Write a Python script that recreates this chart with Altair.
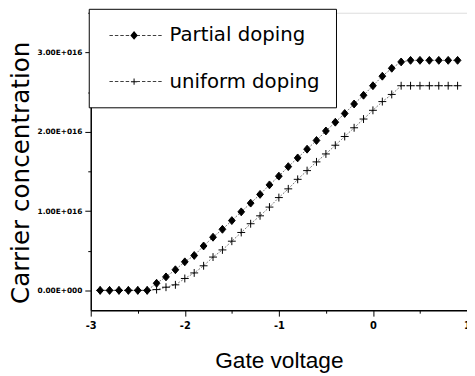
import altair as alt
import pandas as pd

# ---- data (values in units of 1e16) ----
gate_voltage = [-2.9, -2.8, -2.7, -2.6, -2.5, -2.4, -2.3, -2.2, -2.1, -2.0,
                -1.9, -1.8, -1.7, -1.6, -1.5, -1.4, -1.3, -1.2, -1.1, -1.0,
                -0.9, -0.8, -0.7, -0.6, -0.5, -0.4, -0.3, -0.2, -0.1, 0.0,
                0.1, 0.2, 0.3, 0.4, 0.5, 0.6, 0.7, 0.8, 0.9]
partial_doping = [0, 0, 0, 0, 0, 0, 0.09, 0.17, 0.26, 0.36,
                  0.44, 0.56, 0.67, 0.77, 0.88, 0.99, 1.10, 1.21, 1.33, 1.44,
                  1.56, 1.67, 1.78, 1.89, 2.01, 2.12, 2.23, 2.35, 2.46, 2.58,
                  2.70, 2.80, 2.88, 2.90, 2.90, 2.90, 2.90, 2.90, 2.90]
uniform_doping = [0, 0, 0, 0, 0, 0, 0.01, 0.04, 0.07, 0.15,
                  0.22, 0.31, 0.42, 0.51, 0.62, 0.73, 0.84, 0.94, 1.05, 1.17,
                  1.28, 1.40, 1.51, 1.62, 1.72, 1.83, 1.94, 2.05, 2.16, 2.27,
                  2.38, 2.47, 2.58, 2.58, 2.58, 2.58, 2.58, 2.58, 2.58]
series_names = ["Partial doping", "uniform doping"]
x_ticks = [-3, -2, -1, 0, 1]
x_minor = [-2.5, -1.5, -0.5, 0.5]
y_ticks = [0, 1e16, 2e16, 3e16]
y_minor = [0.5e16, 1.5e16, 2.5e16, 3.5e16]

rows = []
for xv, pv, uv in zip(gate_voltage, partial_doping, uniform_doping):
    rows.append({"x": xv, "y": pv * 1e16, "series": series_names[0]})
    rows.append({"x": xv, "y": uv * 1e16, "series": series_names[1]})
df = pd.DataFrame(rows)

# ---- marker shapes ----
DIAMOND = "M0,-1L0.85,0L0,1L-0.85,0Z"
PLUS = "M-1,0H1M0,-1V1"


def rect(x0, x1, y0, y1):
    return f"M{x0:.2f},{y0:.2f}H{x1:.2f}V{y1:.2f}H{x0:.2f}Z"


def legend_path(marker):
    segs = []
    a = -2.5
    while a < 2.8:
        b = min(a + 0.35, 2.8)
        segs.append(rect(a + 1.9, b + 1.9, -0.04, 0.04))
        a += 0.55
    return "".join(segs) + marker


LEG_DIAMOND = legend_path("M1.9,-0.45L2.28,0L1.9,0.45L1.52,0Z")
LEG_PLUS = legend_path(rect(1.58, 2.22, -0.05, 0.05) + rect(1.85, 1.95, -0.32, 0.32))

x_dom = [-3, 1]
y_dom = [-0.25e16, 3.5e16]

label_expr = ("datum.value == 0 ? '0.00E+000' : "
              "format(datum.value / 1e16, '.2f') + 'E+016'")
x_label_expr = "datum.value < 0 ? '-' + format(-datum.value, 'd') : format(datum.value, 'd')"

x_main = alt.X("x:Q", scale=alt.Scale(domain=x_dom, nice=False, zero=False),
               axis=alt.Axis(values=x_ticks, title="Gate voltage", orient="bottom",
                             grid=False, tickSize=6, tickWidth=1, domainWidth=1.5,
                             domainColor="black", tickColor="black",
                             labelExpr=x_label_expr,
                             labelFont="DejaVu Sans", labelFontWeight="bold",
                             labelFontSize=10, labelColor="black", labelPadding=5,
                             labelFlush=False, labelOverlap=False,
                             titleFont="Liberation Sans", titleFontSize=23,
                             titleFontWeight="normal", titleColor="black",
                             titleX=191, titleY=58, titleBaseline="alphabetic",
                             titleAlign="center"))
y_main = alt.Y("y:Q", scale=alt.Scale(domain=y_dom, nice=False, zero=False),
               axis=alt.Axis(values=y_ticks, title="Carrier concentration", orient="left",
                             grid=False, tickSize=6, tickWidth=1, domainWidth=1.5,
                             domainColor="black", tickColor="black",
                             labelExpr=label_expr, labelFont="DejaVu Sans",
                             labelFontWeight="bold", labelFontSize=7.5,
                             labelColor="black", labelPadding=3, labelFlush=False,
                             labelOverlap=False,
                             titleFont="DejaVu Sans", titleFontSize=25,
                             titleFontWeight="normal", titleColor="black",
                             titleAngle=270, titleX=-63, titleY=162,
                             titleBaseline="alphabetic", titleAlign="center"))

lines = alt.Chart(df).mark_line(
    color="#555555", strokeWidth=0.8, strokeDash=[2, 1.5]
).encode(x=x_main, y=y_main, detail="series:N")

x_plain = alt.X("x:Q", scale=alt.Scale(domain=x_dom, nice=False, zero=False), axis=None)
y_plain = alt.Y("y:Q", scale=alt.Scale(domain=y_dom, nice=False, zero=False), axis=None)

points = alt.Chart(df).mark_point(
    filled=True, color="black", stroke="black", strokeWidth=1, opacity=1, size=64
).encode(
    x=x_plain, y=y_plain,
    shape=alt.Shape("series:N", scale=alt.Scale(domain=series_names, range=[DIAMOND, PLUS]),
                    legend=None),
)

minor = alt.Chart(df).mark_point(opacity=0, size=1).encode(
    x=alt.X("x:Q", scale=alt.Scale(domain=x_dom, nice=False, zero=False),
            axis=alt.Axis(values=x_minor, orient="bottom", labels=False, domain=False,
                          title=None, tickSize=3, tickWidth=1, tickColor="black", grid=False)),
    y=alt.Y("y:Q", scale=alt.Scale(domain=y_dom, nice=False, zero=False),
            axis=alt.Axis(values=y_minor, orient="left", labels=False, domain=False,
                          title=None, tickSize=3, tickWidth=1, tickColor="black", grid=False)),
)

legend_layer = alt.Chart(df).transform_filter("false").mark_point(
    filled=True, color="black", opacity=1
).encode(
    x=x_plain, y=y_plain,
    shape=alt.Shape("series:N",
                    scale=alt.Scale(domain=series_names, range=[LEG_DIAMOND, LEG_PLUS]),
                    legend=alt.Legend(orient="none", legendX=-2, legendY=-4, title=None,
                                      padding=16, rowPadding=26, labelOffset=44,
                                      symbolSize=400, symbolFillColor="black",
                                      symbolOpacity=1,
                                      labelFont="DejaVu Sans", labelFontSize=20,
                                      labelColor="black", labelLimit=400,
                                      strokeColor="black", fillColor="white",
                                      cornerRadius=0)),
)

chart = alt.layer(lines, points, minor, legend_layer).resolve_scale(
    shape="independent"
).resolve_legend(shape="independent").resolve_axis(
    x="independent", y="independent"
).properties(
    width=382, height=302,
    autosize=alt.AutoSizeParams(type="none"),
    padding={"left": 84, "top": 2, "right": 0, "bottom": 66},
).configure_view(stroke=None).configure(background="white")

chart.save("out.html", embed_options={"renderer": "svg", "actions": False})
